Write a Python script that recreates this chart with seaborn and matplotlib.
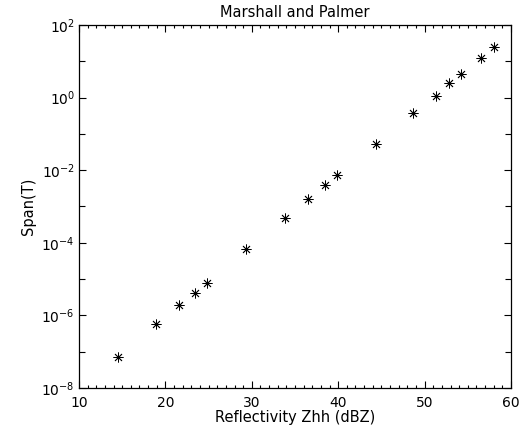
import numpy as np
import pandas as pd
import matplotlib
matplotlib.use("Agg")
import matplotlib.pyplot as plt
import matplotlib.ticker as mticker
import seaborn as sns

# Reflectivity (dBZ) and span values
reflectivity = [14.55, 18.91, 21.57, 23.46, 24.85, 29.33, 33.88, 36.54, 38.47,
                39.90, 44.38, 48.69, 51.28, 52.86, 54.18, 56.49, 58.03]
span = [7.0e-8, 5.8e-7, 1.94e-6, 4.2e-6, 8.0e-6, 6.6e-5, 4.7e-4, 1.64e-3, 3.9e-3,
        7.4e-3, 5.27e-2, 0.369, 1.13, 2.48, 4.47, 12.1, 24.3]

x_ticks = [10, 20, 30, 40, 50, 60]
y_major = [1e-8, 1e-6, 1e-4, 1e-2, 1e0, 1e2]
y_labels = ["$10^{-8}$", "$10^{-6}$", "$10^{-4}$", "$10^{-2}$", "$10^{0}$", "$10^{2}$"]
y_minor = [1e-7, 1e-5, 1e-3, 1e-1, 1e1]

df = pd.DataFrame({"Reflectivity": reflectivity, "Span": span})

sns.set_style("ticks")
plt.rcParams["font.family"] = ["DejaVu Sans"]
plt.rcParams["mathtext.default"] = "regular"
plt.rcParams["text.color"] = "black"
plt.rcParams["axes.labelcolor"] = "black"

fig = plt.figure(figsize=(5.23, 4.30), dpi=100)
ax = fig.add_axes([79 / 523, 1 - 388 / 430, 432 / 523, 363 / 430])

sns.scatterplot(data=df, x="Reflectivity", y="Span", ax=ax,
                marker=(8, 2, 0), s=45, color="black", linewidth=0.6,
                legend=False)

ax.set_yscale("log")
ax.set_xlim(10, 60)
ax.set_ylim(1e-8, 1e2)

ax.xaxis.set_major_locator(mticker.FixedLocator(x_ticks))
ax.xaxis.set_minor_locator(mticker.MultipleLocator(1))
ax.yaxis.set_major_locator(mticker.FixedLocator(y_major))
ax.yaxis.set_major_formatter(mticker.FixedFormatter(y_labels))
ax.yaxis.set_minor_locator(mticker.FixedLocator(y_minor))
ax.yaxis.set_minor_formatter(mticker.NullFormatter())

ax.tick_params(which="both", direction="in", top=True, right=True,
               colors="black", labelsize=10, width=0.8)
ax.tick_params(axis="x", which="major", length=5, pad=6)
ax.tick_params(axis="x", which="minor", length=2.5)
ax.tick_params(axis="y", which="major", length=5, pad=3)
ax.tick_params(axis="y", which="minor", length=4)

for sp in ax.spines.values():
    sp.set_color("black")
    sp.set_linewidth(0.9)

ax.set_title("Marshall and Palmer", fontsize=10.5, pad=5.5, color="black")
ax.set_xlabel("Reflectivity Zhh (dBZ)", fontsize=10.5, labelpad=0)
ax.set_ylabel("Span(T)", fontsize=10.5, labelpad=4)

fig.savefig("out.png", dpi=100, facecolor="white")
